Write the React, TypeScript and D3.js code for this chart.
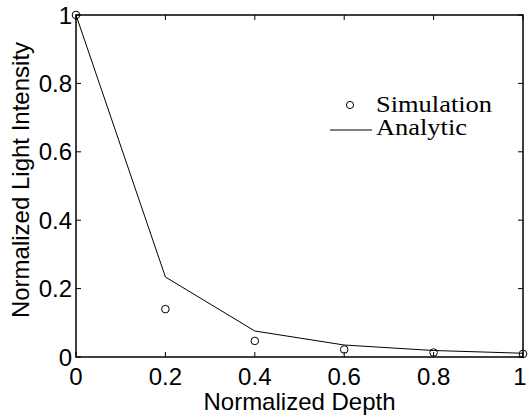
import React, { useEffect, useRef } from 'react';
import * as d3 from 'd3';

// depth positions (normalized)
const depth = [0, 0.2, 0.4, 0.6, 0.8, 1.0];
// simulated intensity (circles)
const simulation = [1.0, 0.14, 0.047, 0.022, 0.013, 0.009];
// analytic intensity (solid line)
const analytic = [1.0, 0.234, 0.076, 0.035, 0.019, 0.011];
const tickValues = [0, 0.2, 0.4, 0.6, 0.8, 1];
const tickLabels = ['0', '0.2', '0.4', '0.6', '0.8', '1'];

const W = 528;
const H = 420;

const App = () => {
    const svgRef = useRef<SVGSVGElement | null>(null);

    useEffect(() => {
        if (!svgRef.current) return;
        const svg = d3.select(svgRef.current);
        svg.selectAll('*').remove();

        const margin = { top: 15, right: 5, bottom: 63, left: 76 };
        const width = W - margin.left - margin.right;
        const height = H - margin.top - margin.bottom;

        const x = d3.scaleLinear().domain([0, 1]).range([0, width]);
        const y = d3.scaleLinear().domain([0, 1]).range([height, 0]);

        const g = svg.append('g')
            .attr('transform', `translate(${margin.left},${margin.top})`);

        const sans = '"Liberation Sans", Arial, Helvetica, sans-serif';
        const serif = '"Liberation Serif", "Times New Roman", serif';
        const tick = 5;

        // ticks, inward on all four sides
        tickValues.forEach(v => {
            g.append('line').attr('x1', x(v)).attr('x2', x(v)).attr('y1', height).attr('y2', height - tick)
                .attr('stroke', '#000').attr('stroke-width', 1);
            g.append('line').attr('x1', x(v)).attr('x2', x(v)).attr('y1', 0).attr('y2', tick)
                .attr('stroke', '#000').attr('stroke-width', 1);
            g.append('line').attr('y1', y(v)).attr('y2', y(v)).attr('x1', 0).attr('x2', tick)
                .attr('stroke', '#000').attr('stroke-width', 1);
            g.append('line').attr('y1', y(v)).attr('y2', y(v)).attr('x1', width).attr('x2', width - tick)
                .attr('stroke', '#000').attr('stroke-width', 1);
        });

        // tick labels (last one kept inside the page edge)
        g.selectAll('text.xt')
            .data(tickValues).enter()
            .append('text')
            .attr('class', 'xt')
            .attr('x', d => Math.min(x(d), W - margin.left - 8))
            .attr('y', height + 28)
            .attr('text-anchor', 'middle')
            .style('font-family', sans)
            .style('font-size', '24px')
            .text((d, i) => tickLabels[i]);

        g.selectAll('text.yt')
            .data(tickValues).enter()
            .append('text')
            .attr('class', 'yt')
            .attr('x', -4)
            .attr('y', d => y(d))
            .attr('dy', '0.36em')
            .attr('text-anchor', 'end')
            .style('font-family', sans)
            .style('font-size', '24px')
            .text((d, i) => tickLabels[i]);

        // axis titles
        svg.append('text')
            .attr('x', margin.left + width / 2)
            .attr('y', 410)
            .attr('text-anchor', 'middle')
            .style('font-family', sans)
            .style('font-size', '24px')
            .text('Normalized Depth');

        svg.append('text')
            .attr('transform', `translate(29,${margin.top + height / 2 - 6}) rotate(-90)`)
            .attr('text-anchor', 'middle')
            .style('font-family', sans)
            .style('font-size', '24px')
            .text('Normalized Light Intensity');

        // analytic line
        const line = d3.line<number>()
            .x((d, i) => x(depth[i]))
            .y(d => y(d));
        g.append('path')
            .datum(analytic)
            .attr('d', line)
            .attr('fill', 'none')
            .attr('stroke', '#000')
            .attr('stroke-width', 1);

        // simulation markers
        g.selectAll('circle.sim')
            .data(simulation).enter()
            .append('circle')
            .attr('class', 'sim')
            .attr('cx', (d, i) => x(depth[i]))
            .attr('cy', d => y(d))
            .attr('r', 3.8)
            .attr('fill', 'none')
            .attr('stroke', '#000')
            .attr('stroke-width', 1);

        // box
        g.append('rect')
            .attr('width', width).attr('height', height)
            .attr('fill', 'none')
            .attr('stroke', '#000')
            .attr('stroke-width', 1.5);

        // legend (no frame)
        const lg = svg.append('g');
        lg.append('circle').attr('cx', 350).attr('cy', 105).attr('r', 3.6)
            .attr('fill', 'none').attr('stroke', '#000').attr('stroke-width', 1);
        lg.append('text').attr('x', 376).attr('y', 112)
            .attr('textLength', 116).attr('lengthAdjust', 'spacingAndGlyphs')
            .style('font-family', serif).style('font-size', '23px')
            .text('Simulation');
        lg.append('line').attr('x1', 330).attr('x2', 372).attr('y1', 130).attr('y2', 130)
            .attr('stroke', '#000').attr('stroke-width', 1);
        lg.append('text').attr('x', 376).attr('y', 135)
            .attr('textLength', 91).attr('lengthAdjust', 'spacingAndGlyphs')
            .style('font-family', serif).style('font-size', '23px')
            .text('Analytic');
    }, []);

    return (
        <svg ref={svgRef} width={W} height={H}
            style={{ position: 'absolute', left: 0, top: 0, background: '#fff', display: 'block' }} />
    );
};

export default App;
